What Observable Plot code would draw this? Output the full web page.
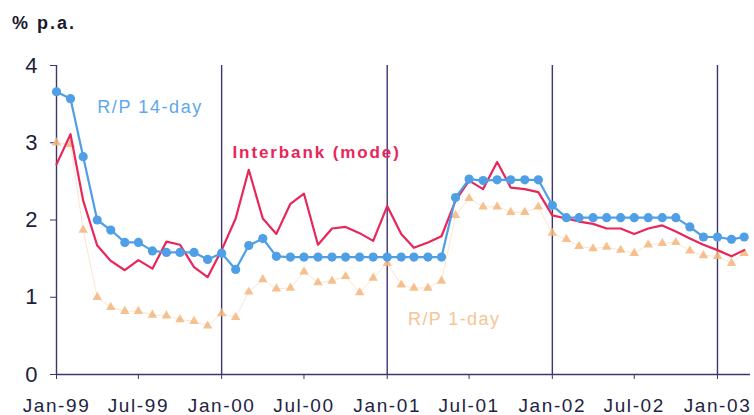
<!DOCTYPE html>
<html>
<head>
<meta charset="utf-8">
<script src="https://cdn.jsdelivr.net/npm/d3@7"></script>
<script src="https://cdn.jsdelivr.net/npm/@observablehq/plot@0.6"></script>
<style>
  html, body { margin: 0; padding: 0; background: #ffffff; }
  #wrap { position: relative; width: 754px; height: 415px; font-family: "Liberation Sans", Arial, sans-serif; }
  #unit { position: absolute; left: 12px; top: 13px; font-size: 18px; font-weight: bold; letter-spacing: 2px; color: #1a1a2e; }
  #chart { position: absolute; left: 0; top: 0; }
</style>
</head>
<body>
<div id="wrap">
  <div id="chart"></div>
  <div id="unit">% p.a.</div>
</div>
<script>
const months = [
  "1999-01","1999-02","1999-03","1999-04","1999-05","1999-06","1999-07","1999-08","1999-09","1999-10","1999-11","1999-12",
  "2000-01","2000-02","2000-03","2000-04","2000-05","2000-06","2000-07","2000-08","2000-09","2000-10","2000-11","2000-12",
  "2001-01","2001-02","2001-03","2001-04","2001-05","2001-06","2001-07","2001-08","2001-09","2001-10","2001-11","2001-12",
  "2002-01","2002-02","2002-03","2002-04","2002-05","2002-06","2002-07","2002-08","2002-09","2002-10","2002-11","2002-12",
  "2003-01","2003-02","2003-03"
];
const rp14 = [
  3.66, 3.57, 2.82, 2.00, 1.87, 1.71, 1.71, 1.60, 1.58, 1.58, 1.58, 1.49,
  1.57, 1.36, 1.67, 1.76, 1.53, 1.52, 1.52, 1.52, 1.52, 1.52, 1.52, 1.52,
  1.52, 1.52, 1.52, 1.52, 1.52, 2.29, 2.53, 2.51, 2.52, 2.52, 2.52, 2.52,
  2.19, 2.03, 2.03, 2.03, 2.03, 2.03, 2.03, 2.03, 2.03, 2.03, 1.91, 1.78,
  1.78, 1.75, 1.78
];
const interbank = [
  2.72, 3.11, 2.25, 1.67, 1.47, 1.35, 1.48, 1.37, 1.72, 1.68, 1.39, 1.26,
  1.61, 2.02, 2.65, 2.02, 1.82, 2.21, 2.34, 1.68, 1.89, 1.91, 1.83, 1.73,
  2.18, 1.82, 1.64, 1.71, 1.79, 2.25, 2.51, 2.40, 2.75, 2.42, 2.40, 2.36,
  2.06, 2.02, 1.98, 1.95, 1.89, 1.89, 1.82, 1.89, 1.93, 1.85, 1.76, 1.68,
  1.61, 1.53, 1.61
];
const rp1 = [
  3.00, 2.98, 1.87, 1.00, 0.87, 0.82, 0.82, 0.77, 0.76, 0.71, 0.69, 0.63,
  0.79, 0.74, 1.07, 1.23, 1.11, 1.12, 1.33, 1.19, 1.21, 1.27, 1.06, 1.25,
  1.44, 1.16, 1.12, 1.12, 1.21, 2.06, 2.28, 2.17, 2.17, 2.10, 2.10, 2.17,
  1.83, 1.75, 1.66, 1.63, 1.65, 1.61, 1.57, 1.68, 1.70, 1.71, 1.60, 1.54,
  1.53, 1.44, 1.57
];
const xTickDates = ["1999-01","1999-07","2000-01","2000-07","2001-01","2001-07","2002-01","2002-07","2003-01"];
const xTickLabels = ["Jan-99","Jul-99","Jan-00","Jul-00","Jan-01","Jul-01","Jan-02","Jul-02","Jan-03"];
const yTicks = [0, 1, 2, 3, 4];
const yearLines = ["2000-01","2001-01","2002-01","2003-01"];
const seriesLabels = ["R/P 14-day", "Interbank (mode)", "R/P 1-day"];

const parse = d3.utcParse("%Y-%m");
const rows = months.map((m, i) => ({date: parse(m), rp14: rp14[i], ib: interbank[i], rp1: rp1[i]}));
const tickDates = xTickDates.map(parse);
const labelOf = new Map(tickDates.map((d, i) => [+d, xTickLabels[i]]));

const axisColor = "#3d3470";
const blue = "#4f9fe6";
const red = "#e8265a";
const orange = "#f3a865";

const chart = Plot.plot({
  width: 754,
  height: 415,
  marginLeft: 56,
  marginRight: 4,
  marginTop: 65,
  marginBottom: 41,
  style: {fontFamily: "Liberation Sans, Arial, sans-serif", background: "transparent"},
  x: {type: "utc", domain: [new Date(Date.UTC(1999,0,1)), new Date(Date.UTC(2003,2,15))]},
  y: {domain: [0, 4]},
  marks: [
    Plot.ruleX(yearLines.map(parse), {y1: 0, y2: 4, stroke: axisColor, strokeWidth: 1.4}),
    Plot.ruleY([0], {stroke: axisColor, strokeWidth: 1.4}),
    Plot.ruleX([parse("1999-01")], {y1: 0, y2: 4, stroke: axisColor, strokeWidth: 1.4}),
    Plot.axisX({ticks: tickDates, tickFormat: d => labelOf.get(+d), tickSize: 5, tickPadding: 19,
      stroke: axisColor, fontSize: 19, fill: "#232342", label: null}),
    Plot.axisY({ticks: yTicks, tickFormat: d => String(d), tickSize: 6, tickPadding: 13, stroke: axisColor, fontSize: 22,
      fill: "#1e1e3c", label: null}),
    Plot.line(rows, {x: "date", y: "rp1", stroke: orange, strokeWidth: 1, strokeOpacity: 0.3}),
    Plot.dot(rows, {x: "date", y: "rp1", symbol: "triangle", r: 3.5, fill: "#f5b57c", fillOpacity: 0.85}),
    Plot.line(rows, {x: "date", y: "ib", stroke: red, strokeWidth: 2.2}),
    Plot.line(rows, {x: "date", y: "rp14", stroke: blue, strokeWidth: 2.2}),
    Plot.dot(rows, {x: "date", y: "rp14", r: 4.6, fill: blue}),
    Plot.text([seriesLabels[0]], {x: () => parse("1999-04"), y: () => 3.46, text: d => d, textAnchor: "start",
      fill: "#5ea8ea", fontSize: 18}),
    Plot.text([seriesLabels[1]], {x: () => new Date(Date.UTC(2000,0,25)), y: () => 2.87, text: d => d, textAnchor: "start",
      fill: red, fontSize: 17, fontWeight: "bold"}),
    Plot.text([seriesLabels[2]], {x: () => new Date(Date.UTC(2001,1,16)), y: () => 0.72, text: d => d, textAnchor: "start",
      fill: "#f5c594", fontSize: 18})
  ]
});
// widen glyph spacing to match the stretched lettering of the original
const spacing = new Map([
  [seriesLabels[0], "1.6px"], [seriesLabels[1], "1.9px"], [seriesLabels[2], "1.4px"]
]);
xTickLabels.forEach(l => spacing.set(l, "1.6px"));
d3.select(chart).selectAll("text").each(function() {
  const s = spacing.get(this.textContent);
  if (s) this.style.letterSpacing = s;
});
document.getElementById("chart").appendChild(chart);
</script>
</body>
</html>
